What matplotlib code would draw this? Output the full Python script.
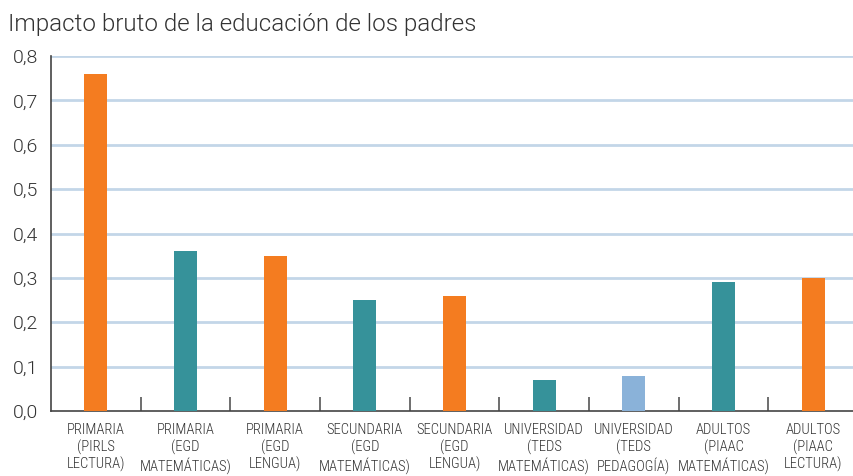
import matplotlib
matplotlib.use("Agg")
import matplotlib.pyplot as plt
from matplotlib.ticker import FixedLocator, FuncFormatter

categories = [
    "PRIMARIA\n(PIRLS\nLECTURA)",
    "PRIMARIA\n(EGD\nMATEMÁTICAS)",
    "PRIMARIA\n(EGD\nLENGUA)",
    "SECUNDARIA\n(EGD\nMATEMÁTICAS)",
    "SECUNDARIA\n(EGD\nLENGUA)",
    "UNIVERSIDAD\n(TEDS\nMATEMÁTICAS)",
    "UNIVERSIDAD\n(TEDS\nPEDAGOGÍA)",
    "ADULTOS\n(PIAAC\nMATEMÁTICAS)",
    "ADULTOS\n(PIAAC\nLECTURA)",
]
values = [0.76, 0.36, 0.35, 0.25, 0.26, 0.07, 0.08, 0.29, 0.30]
kinds = ["lectura", "mat", "lectura", "mat", "lectura", "mat", "ped", "mat", "lectura"]
palette = {"lectura": "#F47C20", "mat": "#36929A", "ped": "#8AB2D9"}
yticks = [0.0, 0.1, 0.2, 0.3, 0.4, 0.5, 0.6, 0.7, 0.8]
title = "Impacto bruto de la educación de los padres"

text_col = "#333333"

fig = plt.figure(figsize=(8.54, 4.76), dpi=100)
W, H = 854, 476
ax = fig.add_axes([51 / W, 1 - 411 / H, 807 / W, (411 - 56) / H])

x = list(range(len(values)))
ax.bar(x, values, width=0.255, color=[palette[k] for k in kinds], zorder=3)

ax.set_xlim(-0.5, len(values) - 0.5)
ax.set_ylim(0, 0.8)

for y in yticks[1:]:
    ax.axhline(y, color="#C3D6E8", lw=2.0, zorder=1)

for s in ["top", "right"]:
    ax.spines[s].set_visible(False)
for s in ["left", "bottom"]:
    ax.spines[s].set_color("#444444")
    ax.spines[s].set_linewidth(1.2)

ax.yaxis.set_major_locator(FixedLocator(yticks))
ax.yaxis.set_major_formatter(FuncFormatter(lambda v, p: f"{v:.1f}".replace(".", ",")))
ax.tick_params(axis="y", length=0, pad=9, labelsize=14, labelcolor=text_col)
for lab in ax.get_yticklabels():
    lab.set_family("Roboto")
    lab.set_fontweight(300)

# category separators as upward ticks
ax.xaxis.set_major_locator(FixedLocator([i + 0.5 for i in range(len(values) - 1)]))
ax.xaxis.set_major_formatter(FuncFormatter(lambda v, p: ""))
ax.tick_params(axis="x", which="major", direction="in", length=10, width=1.2, color="#555555")

ax.xaxis.set_minor_locator(FixedLocator(x))
ax.set_xticklabels(categories, minor=True)
ax.tick_params(axis="x", which="minor", length=0, pad=9, labelcolor=text_col)
for lab in ax.get_xticklabels(minor=True):
    lab.set_family("Roboto Condensed")
    lab.set_fontweight(300)
    lab.set_fontsize(10.5)
    lab.set_linespacing(1.16)

fig.text(8 / W, 1 - 24 / H, title, fontsize=17.4, color=text_col,
         family="Roboto", fontweight=300, va="center", ha="left")

fig.savefig("out.png", dpi=100, facecolor="white")
